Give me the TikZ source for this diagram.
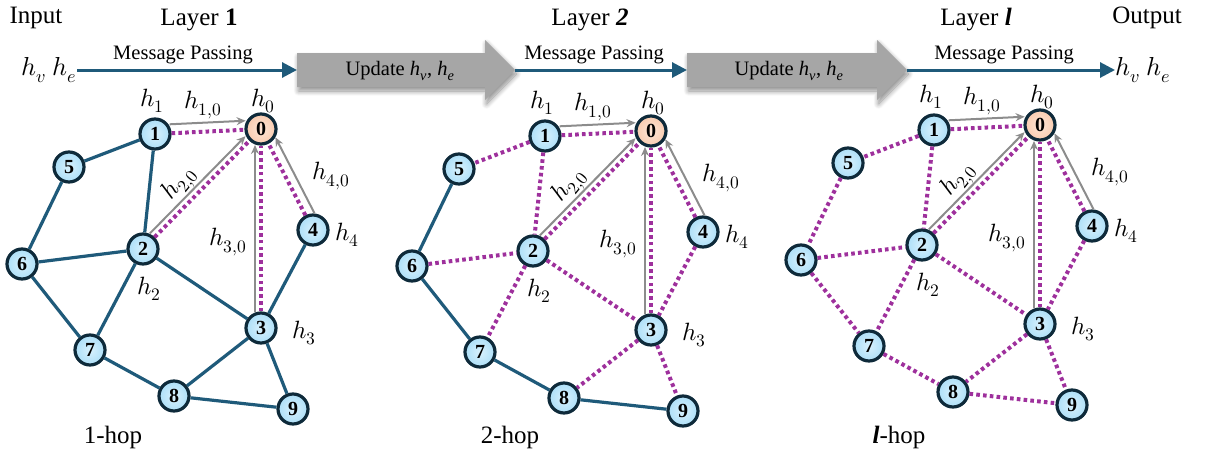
\documentclass[tikz,border=0pt]{standalone}
\usepackage{fontspec}
\usepackage{unicode-math}
\setmainfont{Liberation Serif}
\setmathfont{Latin Modern Math}
\usetikzlibrary{calc,arrows.meta,shadows.blur}
\definecolor{tealc}{HTML}{1F5A7A}
\definecolor{purp}{HTML}{9E309C}
\definecolor{navy}{HTML}{0E2A3A}
\definecolor{garr}{HTML}{8C8C8C}
\definecolor{blk}{HTML}{A6A6A6}
\definecolor{bA}{HTML}{D8F1FD}
\definecolor{bB}{HTML}{A8DDF7}
\definecolor{bC}{HTML}{62B8E7}
\definecolor{oA}{HTML}{FDE6D6}
\definecolor{oB}{HTML}{F8C8AB}
\definecolor{oC}{HTML}{F0A985}
\pgfdeclareradialshading{nblue}{\pgfpoint{0bp}{0bp}}{color(0bp)=(bA); color(28bp)=(bB); color(50bp)=(bC)}
\pgfdeclareradialshading{norange}{\pgfpoint{0bp}{0bp}}{color(0bp)=(oA); color(28bp)=(oB); color(50bp)=(oC)}
\tikzset{
  gnode/.style={circle, minimum size=30pt, inner sep=0pt, draw=navy, line width=3.2pt,
    font=\fontsize{20}{20}\selectfont\bfseries},
  bnode/.style={gnode, shading=nblue},
  onode/.style={gnode, shading=norange},
  solidedge/.style={draw=tealc, line width=3.2pt},
  dotedge/.style={draw=purp, line width=4pt, dash pattern=on 3.6pt off 3.2pt},
  garrow/.style={draw=garr, line width=2pt, -{Stealth[length=9pt,width=8pt]}},
  tarrow/.style={draw=tealc, line width=3pt, -{Triangle[length=15pt,width=15pt]}},
  hlab/.style={inner sep=0pt, font=\fontsize{25}{29}\selectfont},
  title/.style={inner sep=0pt, font=\fontsize{25}{30}\selectfont},
  mp/.style={inner sep=0pt, font=\fontsize{20.5}{24}\selectfont},
  blockarrow/.style={fill=blk, blur shadow={shadow xshift=1.5pt, shadow yshift=-4pt, shadow blur radius=5pt, shadow blur steps=10, shadow opacity=45}}
}
\newcommand\gnodes{%
  \node[onode] (0) at (261,129) {0};
  \node[bnode] (1) at (155,134) {1};
  \node[bnode] (2) at (143,249) {2};
  \node[bnode] (3) at (261,328) {3};
  \node[bnode] (4) at (313,230) {4};
  \node[bnode] (5) at (69,167) {5};
  \node[bnode] (6) at (22,264) {6};
  \node[bnode] (7) at (90,350) {7};
  \node[bnode] (8) at (174,396) {8};
  \node[bnode] (9) at (293,409) {9};
  \node[hlab] (l0) at (263,101) {$h_0$};
  \node[hlab] (l1) at (152,101) {$h_1$};
  \node[hlab] (l2) at (149,289) {$h_2$};
  \node[hlab] (l3) at (304,333) {$h_3$};
  \node[hlab] (l4) at (347,235) {$h_4$};
  \node[hlab] (l10) at (203,105) {$h_{1,0}$};
  \node[hlab, rotate=51] (l20) at (180,184) {$h_{2,0}$};
  \node[hlab] (l30) at (228,242) {$h_{3,0}$};
  \node[hlab] (l40) at (331,176) {$h_{4,0}$};
  \draw[garrow, shorten <=15pt, shorten >=15pt] ($(1)!9pt!90:(0)$) -- ($(0)!9pt!-90:(1)$);
  \draw[garrow, shorten <=16pt, shorten >=16pt] ($(2)!6pt!90:(0)$) -- ($(0)!6pt!-90:(2)$);
  \draw[garrow, shorten <=16pt, shorten >=16pt] ($(3)!6pt!90:(0)$) -- ($(0)!6pt!-90:(3)$);
  \draw[garrow, shorten <=14pt, shorten >=14pt] ($(4)!9pt!-90:(0)$) -- ($(0)!9pt!90:(4)$);
}
\newcommand\gedge[3]{\draw[#1] (#2) -- (#3);}
\begin{document}
\begin{tikzpicture}[x=1pt, y=-1pt]
\useasboundingbox (0,0) rectangle (1205,455);
% top row
\node[title] (input) at (36,18) {Input};
\node[title] (output) at (1147,18) {Output};
\node[title] (lay1) at (199,20) {Layer \textbf{1}};
\node[title] (lay2) at (590,20) {Layer \textbf{\textit{2}}};
\node[title] (layl) at (976,20) {Layer \textbf{\textit{l}}};
\node[hlab, anchor=east, font=\fontsize{26}{30}\selectfont] (hin) at (77,70) {$h_v\ h_e$};
\node[hlab, anchor=west, font=\fontsize{26}{30}\selectfont] (hout) at (1115,70) {$h_v\ h_e$};
\coordinate (t1) at (297,70);
\coordinate (p1) at (515,70);
\coordinate (t2) at (687,70);
\coordinate (p2) at (907,70);
\fill[blockarrow] (297,53) -- (485,53) -- (485,40) -- (515,70) -- (485,100) -- (485,87) -- (297,87) -- cycle;
\fill[blockarrow] (687,53) -- (877,53) -- (877,40) -- (907,70) -- (877,100) -- (877,87) -- (687,87) -- cycle;
\node[mp] (up1) at (400,71) {Update \textit{h}\textsubscript{\textit{v}}, \textit{h}\textsubscript{\textit{e}}};
\node[mp] (up2) at (789,71) {Update \textit{h}\textsubscript{\textit{v}}, \textit{h}\textsubscript{\textit{e}}};
\draw[tarrow] (hin) -- (t1);
\draw[tarrow] (p1) -- (t2);
\draw[tarrow] (p2) -- (hout);
\node[mp] (mp1) at (183,55) {Message Passing};
\node[mp] (mp2) at (594,55) {Message Passing};
\node[mp] (mp3) at (1004,55) {Message Passing};
\node[title] (hop1) at (113,437) {1-hop};
\node[title] (hop2) at (510,437) {2-hop};
\node[title] (hop3) at (899,437) {\textbf{\textit{l}}-hop};
% graph 1
\begin{scope}[name prefix=a]
  \gnodes
  \foreach \p/\q in {1/5,1/2,5/6,6/2,6/7,2/7,2/3,4/3,3/8,3/9,7/8,8/9} {\gedge{solidedge}{\p}{\q}}
  \foreach \p/\q in {1/0,2/0,3/0,4/0} {\gedge{dotedge}{\p}{\q}}
\end{scope}
% graph 2
\begin{scope}[shift={(390,2)}, name prefix=b]
  \gnodes
  \foreach \p/\q in {5/6,6/7,7/8,8/9} {\gedge{solidedge}{\p}{\q}}
  \foreach \p/\q in {1/0,2/0,3/0,4/0,1/5,1/2,6/2,2/7,2/3,4/3,3/8,3/9} {\gedge{dotedge}{\p}{\q}}
\end{scope}
% graph 3
\begin{scope}[shift={(779,-4)}, name prefix=c]
  \gnodes
  \foreach \p/\q in {1/0,2/0,3/0,4/0,1/5,1/2,5/6,6/2,6/7,2/7,2/3,4/3,3/8,3/9,7/8,8/9} {\gedge{dotedge}{\p}{\q}}
\end{scope}
\end{tikzpicture}
\end{document}
